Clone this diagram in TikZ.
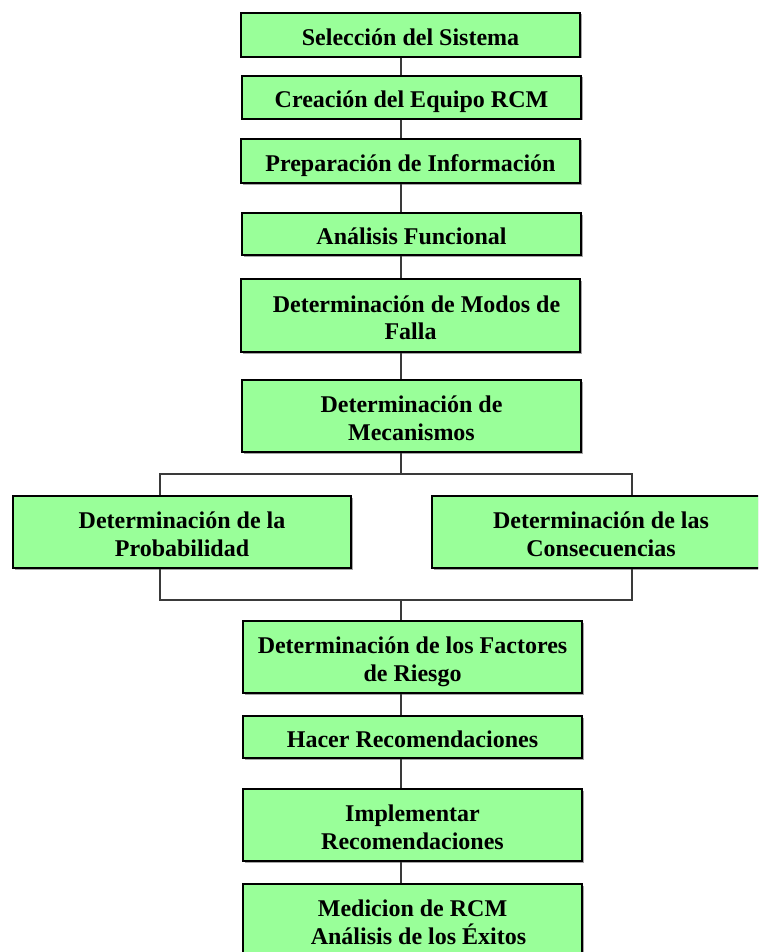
\documentclass[tikz,border=0pt]{standalone}
\usepackage{fontspec}
\setmainfont{Liberation Serif}
\usetikzlibrary{shadows}
\definecolor{boxgreen}{HTML}{99FF99}
\definecolor{connline}{HTML}{3A3A3A}
\newcommand\lbl[1]{\raisebox{-5pt}[\height][\depth]{\begin{tabular}{@{}c@{}}#1\end{tabular}}}
\tikzset{
  stepbox/.style={draw=black, line width=1.4pt, fill=boxgreen, minimum width=339pt,
    inner sep=0pt, align=center, font=\bfseries\fontsize{24}{27.5}\selectfont,
    drop shadow={shadow xshift=1.5pt, shadow yshift=-1.5pt, fill=black!35, opacity=1}},
  conn/.style={draw=connline, line width=1.8pt},
}
\begin{document}
\begin{tikzpicture}[x=1pt,y=1pt]
\useasboundingbox (0,0) rectangle (758,-952);
\clip (0,0) rectangle (758,-952);
\coordinate (spine) at (401,0);
\node[stepbox, minimum height=44pt] (b1) at (410.5,-35) {\lbl{Selección del Sistema}};
\node[stepbox, minimum height=43pt] (b2) at (411.5,-97.5) {\lbl{Creación del Equipo RCM}};
\node[stepbox, minimum height=44pt] (b3) at (410.5,-161) {\lbl{Preparación de Información}};
\node[stepbox, minimum height=42pt] (b4) at (411.5,-234) {\lbl{Análisis Funcional}};
\node[stepbox, minimum height=73pt] (b5) at (410.5,-315.5) {\lbl{\hspace{0.5em}Determinación de Modos de\\Falla}};
\node[stepbox, minimum height=72pt] (b6) at (411.5,-416) {\lbl{Determinación de\\Mecanismos}};
\node[stepbox, minimum height=72pt, minimum width=338pt] (bl) at (182,-532) {\lbl{Determinación de la\\Probabilidad}};
\node[stepbox, minimum height=72pt, minimum width=338pt] (br) at (601,-532) {\lbl{Determinación de las\\Consecuencias}};
\node[stepbox, minimum height=72pt] (b7) at (412.5,-657) {\lbl{Determinación de los Factores\\de Riesgo}};
\node[stepbox, minimum height=42pt] (b8) at (412.5,-737) {\lbl{Hacer Recomendaciones}};
\node[stepbox, minimum height=72pt] (b9) at (412.5,-825) {\lbl{Implementar\\Recomendaciones}};
\node[stepbox, minimum height=72pt] (b10) at (412.5,-920) {\lbl{Medicion de RCM\\\hspace{0.5em}Análisis de los Éxitos}};
\coordinate (jtop) at (401,-474);
\coordinate (ltop) at (160,-474);
\coordinate (rtop) at (632,-474);
\coordinate (jbot) at (401,-600);
\coordinate (lbot) at (160,-600);
\coordinate (rbot) at (632,-600);
\draw[conn] (b1.south -| spine) -- (b2.north -| spine);
\draw[conn] (b2.south -| spine) -- (b3.north -| spine);
\draw[conn] (b3.south -| spine) -- (b4.north -| spine);
\draw[conn] (b4.south -| spine) -- (b5.north -| spine);
\draw[conn] (b5.south -| spine) -- (b6.north -| spine);
\draw[conn] (b6.south -| spine) -- (jtop);
\draw[conn] (bl.north -| ltop) -- (ltop) -- (rtop) -- (br.north -| rtop);
\draw[conn] (bl.south -| lbot) -- (lbot) -- (rbot) -- (br.south -| rbot);
\draw[conn] (jbot) -- (b7.north -| spine);
\draw[conn] (b7.south -| spine) -- (b8.north -| spine);
\draw[conn] (b8.south -| spine) -- (b9.north -| spine);
\draw[conn] (b9.south -| spine) -- (b10.north -| spine);
\end{tikzpicture}
\end{document}
